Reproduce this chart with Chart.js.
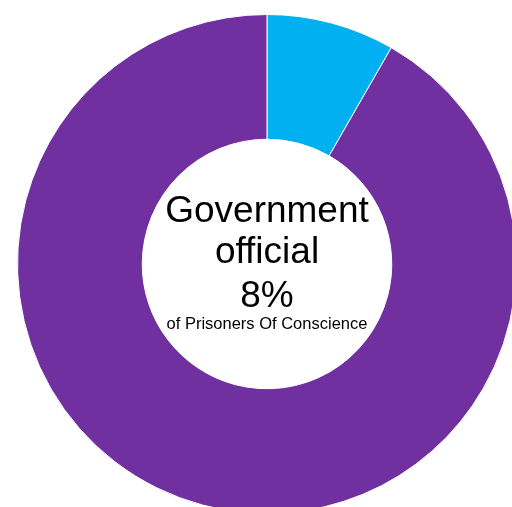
<!DOCTYPE html>
<html>
<head>
<meta charset="utf-8">
<script src="https://cdn.jsdelivr.net/npm/chart.js@4"></script>
<style>
  html, body { margin: 0; padding: 0; background: #fff; overflow: hidden; width: 512px; height: 507px; }
  #wrap { position: absolute; left: 17px; top: 14px; width: 500px; height: 500px; }
</style>
</head>
<body>
<div id="wrap"><canvas id="chart"></canvas></div>
<script>
const labels = ["Government official", "Other"]
const values = [8.3, 91.7]
const colors = ["#00B0F0", "#7030A0"]
const centerTitle = ["Government", "official"]
const centerValue = "8%"
const centerNote = "of Prisoners Of Conscience"

// text in the hole
const centerText = {
    id: "centerText",
    afterDraw(chart) {
        const ctx = chart.ctx
        const arc = chart.getDatasetMeta(0).data[0]
        const x = arc.x, y = arc.y
        ctx.save()
        ctx.fillStyle = "#000"
        ctx.textAlign = "center"
        ctx.textBaseline = "alphabetic"
        ctx.font = "37px 'Liberation Sans', Arial, sans-serif"
        ctx.fillText(centerTitle[0], x, y - 42)
        ctx.fillText(centerTitle[1], x, y - 1)
        ctx.fillText(centerValue, x, y + 43)
        ctx.font = "16.5px 'Liberation Sans', Arial, sans-serif"
        ctx.fillText(centerNote, x, y + 65)
        ctx.restore()
    },
}

new Chart(document.getElementById("chart"), {
    type: "doughnut",
    data: {
        labels,
        datasets: [{
            data: values,
            backgroundColor: colors,
            borderColor: "#ffffff",
            borderWidth: 1,
        }],
    },
    options: {
        responsive: true,
        maintainAspectRatio: false,
        animation: false,
        cutout: "50%",
        layout: { padding: 0 },
        plugins: {
            legend: { display: false },
            tooltip: { enabled: false },
        },
    },
    plugins: [centerText],
})
</script>
</body>
</html>
